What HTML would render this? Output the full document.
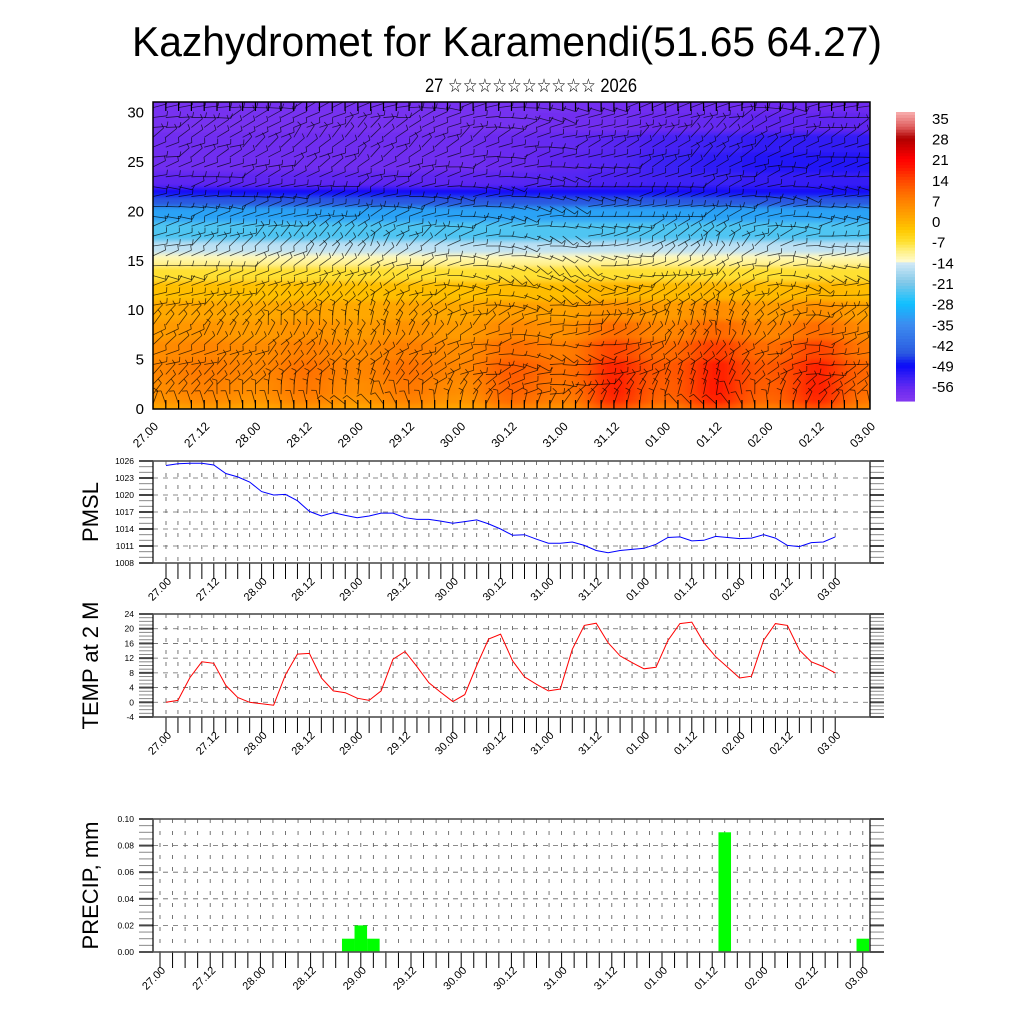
<!DOCTYPE html>
<html><head><meta charset="utf-8"><style>
html,body{margin:0;padding:0;background:#fff;}
svg{display:block;font-family:"Liberation Sans",sans-serif;}
</style></head><body>
<svg id="chart" width="1024" height="1024" viewBox="0 0 1024 1024" xmlns="http://www.w3.org/2000/svg">
<defs>
<clipPath id="topclip"><rect x="153" y="102" width="717" height="307"/></clipPath>
<filter id="blur" x="-5%" y="-5%" width="110%" height="110%"><feGaussianBlur stdDeviation="14 2.5"/></filter>
</defs>
<text x="507" y="56" font-size="42" text-anchor="middle" textLength="750" lengthAdjust="spacingAndGlyphs">Kazhydromet for Karamendi(51.65 64.27)</text>
<text x="531" y="92" font-size="19" text-anchor="middle" font-family="Liberation Sans, DejaVu Sans, sans-serif" textLength="212" lengthAdjust="spacingAndGlyphs">27 ☆☆☆☆☆☆☆☆☆☆ 2026</text>
<g id="topPanel"></g>
<g id="cbar"></g>
<g id="pmsl"></g>
<g id="temp"></g>
<g id="precip"></g>
</svg>
<script>
// ---- data ----
var timeLabels = ["27.00","27.12","28.00","28.12","29.00","29.12","30.00","30.12","31.00","31.12","01.00","01.12","02.00","02.12","03.00"];
var pmslValues = [1025.2,1025.5,1025.6,1025.6,1025.3,1023.8,1023.2,1022.3,1020.6,1020.0,1020.1,1019.0,1017.1,1016.3,1016.9,1016.4,1016.0,1016.3,1016.8,1016.8,1016.0,1015.7,1015.7,1015.4,1015.0,1015.3,1015.6,1014.9,1014.0,1012.9,1013.0,1012.2,1011.5,1011.5,1011.7,1011.1,1010.2,1009.8,1010.2,1010.4,1010.6,1011.3,1012.5,1012.6,1011.9,1012.0,1012.7,1012.5,1012.3,1012.4,1013.0,1012.4,1011.1,1010.9,1011.6,1011.7,1012.6];
var tempValues = [0,0.5,6.7,11,10.6,4.6,1.3,0,-0.4,-0.8,7.5,13.1,13.3,6.6,3.1,2.6,1.1,0.5,3.1,11.7,13.8,9.7,5.3,2.7,0.2,2.1,10,17.2,18.5,11.3,6.9,4.9,3.1,3.6,14.4,20.9,21.5,16.2,12.6,10.8,9.1,9.5,16.8,21.4,21.8,16.2,12.4,9.5,6.6,7.1,16.8,21.4,20.9,14.2,11,9.7,8];
var precipIndex = [15,16,17,45,56];
var precipValues = [0.01,0.02,0.01,0.09,0.01];
var pmslTicks = [1008,1011,1014,1017,1020,1023,1026];
var tempTicks = [-4,0,4,8,12,16,20,24];
var precipTicks = [0,0.02,0.04,0.06,0.08,0.10];
var heightTicks = [0,5,10,15,20,25,30];
var cbarLabels = [35,28,21,14,7,0,-7,-14,-21,-28,-35,-42,-49,-56];
var levelHeights = [0,1,2,4,6,8,10,12,14,15,15.5,16,18,20,21,22,23,25,27,29,31];
var levelTemps = [1,4,5,6,5,3,1,-2,-7,-11,-13,-16,-24,-32,-45,-50,-56,-58,-58,-59,-59];
var lowAnom = [0,2,0,3,0,3,0,6,3,13,6,14,6,13,4];
var upperAnom = [0,0,0,0,0,0,0,1,2,3,5,6,7,7,7];
var lowWeight = [0.9,1,1,0.9,0.7,0.5,0.3,0.1,0,0,0,0,0,0,0,0,0,0,0,0,0];
var upWeight = [0,0,0,0,0,0,0,0,0,0,0,0,0,0,0,0,0.5,1,0.8,0.4,0.2];
var windDirByLevel = [90,60,40,30,20,15,25,35,50,30,20,10,5,-5,0,10,20,15,10,5,0,0,5,10,15,20,25,30,20,10,5];
var windTurnByTime = [0,10,20,30,40,20,0,-20,-40,-10,20,40,10,-20,0];

var NS = "http://www.w3.org/2000/svg";
function mk(tag, attrs, parent){var e=document.createElementNS(NS,tag);for(var k in attrs)e.setAttribute(k,attrs[k]);parent.appendChild(e);return e;}

var lowStops=[[-62,'#8a3cf0'],[-57,'#6a2af0'],[-53,'#3a20f5'],[-49,'#0a0af8'],[-45,'#2a58e0'],[-40,'#3474e8'],[-35,'#3c8cf0'],[-28,'#10c0ff'],[-21,'#80c8e8'],[-13.75,'#d8ecf8']];
var highStops=[[-13.75,'#fffbd0'],[-10,'#fff080'],[-7,'#ffe030'],[-3,'#ffc800'],[0,'#ffb000'],[4,'#ff9400'],[7,'#ff8000'],[11,'#ff6000'],[14,'#ff4400'],[18,'#ff1800'],[21,'#ff0000'],[25,'#d00000'],[28,'#b00000'],[32,'#e06060'],[37,'#f8b0b0']];
function hex(c){return [parseInt(c.substr(1,2),16),parseInt(c.substr(3,2),16),parseInt(c.substr(5,2),16)];}
function cmap(t){var s=t<=-13.75?lowStops:highStops;
  if(t<=s[0][0])return s[0][1]; if(t>=s[s.length-1][0])return s[s.length-1][1];
  for(var i=0;i<s.length-1;i++){if(t>=s[i][0]&&t<=s[i+1][0]){var f=(t-s[i][0])/(s[i+1][0]-s[i][0]);var a=hex(s[i][1]),b=hex(s[i+1][1]);
    return 'rgb('+Math.round(a[0]+(b[0]-a[0])*f)+','+Math.round(a[1]+(b[1]-a[1])*f)+','+Math.round(a[2]+(b[2]-a[2])*f)+')';}}
  return s[0][1];}

var TX0=153,TX1=870,TY0=409,TYU=9.88;
function tx(i){return TX0+i*(TX1-TX0)/(timeLabels.length-1);}
function ty(h){return TY0-h*TYU;}

(function(){
var topG=document.getElementById('topPanel');
var clipG=mk('g',{'clip-path':'url(#topclip)'},topG);
var heat=mk('g',{filter:'url(#blur)'},clipG);


for(var t=0;t<timeLabels.length;t++){
  var xa=(t==0?TX0-60:(tx(t-1)+tx(t))/2), xb=(t==timeLabels.length-1?TX1+60:(tx(t)+tx(t+1))/2);
  for(var l=0;l<levelHeights.length;l++){
    var ya=(l==levelHeights.length-1?ty(33):ty((levelHeights[l]+levelHeights[l+1])/2));
    var yb=(l==0?ty(-3):ty((levelHeights[l-1]+levelHeights[l])/2));
    var val=levelTemps[l]+lowAnom[t]*lowWeight[l]+upperAnom[t]*upWeight[l];
    var r=mk('rect',{x:xa,y:ya,width:xb-xa+0.5,height:yb-ya+0.5,fill:cmap(val)},heat);
    
    
  }
}
var wind=mk('g',{stroke:'#000','stroke-width':'0.8','stroke-opacity':'0.7'},clipG);


var nSteps=56;
for(var i=0;i<=nSteps;i++){
  var x=TX0+i*(TX1-TX0)/nSteps;
  var ti=Math.min(timeLabels.length-1,Math.floor(i/4)), tf=(i/4)-ti, tn=Math.min(timeLabels.length-1,ti+1);
  var turn=windTurnByTime[ti]+(windTurnByTime[tn]-windTurnByTime[ti])*tf;
  for(var h=0;h<windDirByLevel.length;h++){
    var y=ty(h+0.5);
    var a=(windDirByLevel[h]+turn*(h<18?1:0.4)+((i*37+h*53)%40-20))*Math.PI/180;
    var L=14;
    var ex=x+L*Math.cos(a), ey=y-L*Math.sin(a);
    var ln=mk('line',{x1:x,y1:y,x2:ex.toFixed(1),y2:ey.toFixed(1)},wind);
    
    
    var a2=a+Math.PI/2.4;
    mk('line',{x1:ex.toFixed(1),y1:ey.toFixed(1),x2:(ex+5*Math.cos(a2)).toFixed(1),y2:(ey-5*Math.sin(a2)).toFixed(1)},wind);
  }
  mk('line',{x1:x,y1:TY0,x2:x,y2:TY0-9,stroke:'#000','stroke-width':1.2},clipG);
  mk('line',{x1:x,y1:102,x2:x,y2:111,stroke:'#000','stroke-width':1.2},clipG);
}
var fr=mk('rect',{x:153,y:102,width:717,height:307,fill:'none',stroke:'#000','stroke-width':1.5},topG);


heightTicks.forEach(function(v){
  var tt=mk('text',{x:144,y:ty(v)+5,'font-size':15,'text-anchor':'end'},topG);tt.textContent=v;
  
  
});
timeLabels.forEach(function(s,i){
  var x=tx(i);
  var tt=mk('text',{x:x+6,y:427,'font-size':12,'text-anchor':'end',transform:'rotate(-45 '+(x+6)+' 427)'},topG);tt.textContent=s;
  
  
});

var cb=document.getElementById('cbar');
var CB0=112,CB1=398,CT0=37,CT1=-60;
for(var k=0;k<=97;k++){
  var tv=CT0-k; var y0=CB0+(CB1-CB0)*k/97;
  var r2=mk('rect',{x:896,y:y0,width:19,height:(CB1-CB0)/97+0.6,fill:cmap(tv-0.5)},cb);
  
  
}
cbarLabels.forEach(function(v){
  var y=CB0+(CT0-v)*(CB1-CB0)/(CT0-CT1);
  var tt=mk('text',{x:932,y:y+6,'font-size':15},cb);tt.textContent=v;
  
  
});
})();

function panel(g,o){
  var X0=153,X1=870;
  function sx(i){return o.dx0+i*o.dstep;}
  function sy(v){return o.yb-(v-o.vmin)/(o.vmax-o.vmin)*(o.yb-o.yt);}
  var nMin=Math.round((o.vmax-o.vmin)/o.minor);
  for(var m=0;m<=nMin;m++){
    var y=sy(o.vmin+m*o.minor);
    mk('line',{x1:X0-14,y1:y,x2:X0,y2:y,stroke:'#888','stroke-width':1},g);
    mk('line',{x1:X1,y1:y,x2:X1+14,y2:y,stroke:'#888','stroke-width':1},g);
  }
  o.ticks.forEach(function(v){
    var y=sy(v);
    mk('line',{x1:X0,y1:y,x2:X1,y2:y,stroke:'#666','stroke-width':0.8,'stroke-dasharray':'5,5'},g);
    mk('line',{x1:X0-14,y1:y,x2:X0,y2:y,stroke:'#444','stroke-width':2},g);
    mk('line',{x1:X1,y1:y,x2:X1+14,y2:y,stroke:'#444','stroke-width':2},g);
    var tt=mk('text',{x:X0-19,y:y+3,'font-size':8.5,'text-anchor':'end'},g);tt.textContent=o.fmt(v);
    
    
  });
  for(var i=0;i<=56;i++){
    var x=sx(i);
    mk('line',{x1:x,y1:o.yt,x2:x,y2:o.yb,stroke:'#555','stroke-width':0.8,'stroke-dasharray':'4,8'},g);
    mk('line',{x1:x,y1:o.yb,x2:x,y2:o.yb+16,stroke:'#000','stroke-width':1},g);
  }
  if(o.draw)o.draw(sx,sy);
  var fr=mk('rect',{x:X0,y:o.yt,width:X1-X0,height:o.yb-o.yt,fill:'none',stroke:'#000','stroke-width':1.2},g);
  
  
  mk('line',{x1:X0-14,y1:o.yt,x2:X1+14,y2:o.yt,stroke:'#555','stroke-width':1.5},g);
  mk('line',{x1:X0-14,y1:o.yb,x2:X1+14,y2:o.yb,stroke:'#555','stroke-width':1.5},g);
  timeLabels.forEach(function(s,i){
    var x=sx(i*4);
    var tt=mk('text',{x:x+6,y:o.yb+19,'font-size':11,'text-anchor':'end',transform:'rotate(-45 '+(x+6)+' '+(o.yb+19)+')'},g);tt.textContent=s;
    
    
  });
  var cy=(o.yt+o.yb)/2;
  var ti=mk('text',{x:98,y:cy,'font-size':22,'text-anchor':'middle',transform:'rotate(-90 98 '+cy+')'},g);ti.textContent=o.title;
  
  
}
function lineDraw(vals,color,g,nm){return function(sx,sy){
  var d=vals.map(function(v,i){return (i?'L':'M')+sx(i).toFixed(1)+','+sy(v).toFixed(1);}).join('');
  var p=mk('path',{d:d,fill:'none',stroke:color,'stroke-width':1},g);
  
  
};}
var gp=document.getElementById('pmsl');
panel(gp,{yt:461,yb:563,vmin:1008,vmax:1026,minor:1,ticks:pmslTicks,dx0:166,dstep:11.95,title:'PMSL',fmt:function(v){return v;},draw:lineDraw(pmslValues,'#0000ff',gp,'pmsl-line')});
var gt=document.getElementById('temp');
panel(gt,{yt:614,yb:717,vmin:-4,vmax:24,minor:1,ticks:tempTicks,dx0:166,dstep:11.95,title:'TEMP at 2 M',fmt:function(v){return v;},draw:lineDraw(tempValues,'#ff0000',gt,'temp-line')});
var gr=document.getElementById('precip');
panel(gr,{yt:819,yb:952,vmin:0,vmax:0.1,minor:0.005,ticks:precipTicks,dx0:160,dstep:12.55,title:'PRECIP, mm',fmt:function(v){return v.toFixed(2);},draw:function(sx,sy){
  precipIndex.forEach(function(idx,k){
    var x=sx(idx); var w=12.55; var x0=Math.max(153,x-w/2), x1=Math.min(870,x+w/2);
    var b=mk('rect',{x:x0,y:sy(precipValues[k]),width:x1-x0,height:952-sy(precipValues[k]),fill:'#00ff00'},gr);
    
    
  });
}});
</script>
</body></html>
